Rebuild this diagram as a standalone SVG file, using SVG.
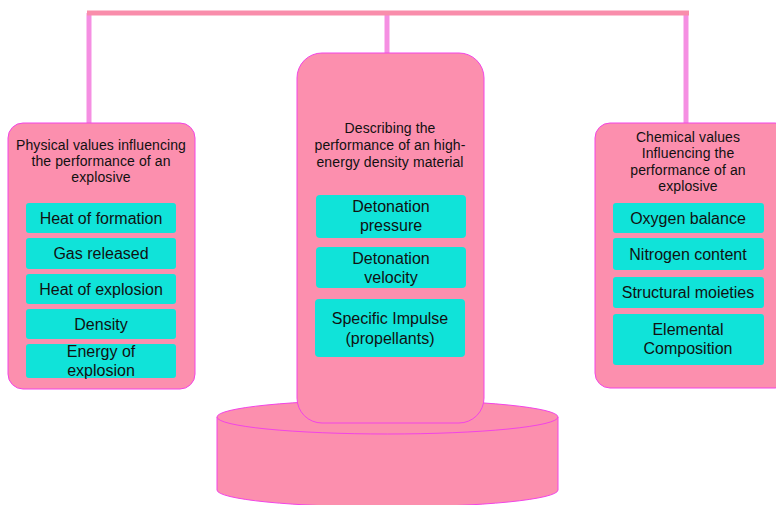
<svg xmlns="http://www.w3.org/2000/svg" width="776" height="505" viewBox="0 0 776 505">
<style>
.panel{fill:#fc8fae;stroke:#f244e6;stroke-width:1}
.item{fill:#10e3d9;stroke:none}
.t{font-family:"Liberation Sans",Arial,sans-serif;font-size:14px;letter-spacing:0.1px;fill:#111;text-anchor:middle}
.i{font-family:"Liberation Sans",Arial,sans-serif;font-size:16px;fill:#111;text-anchor:middle}
.h{stroke:#f98dab;stroke-width:5;fill:none}
.v{stroke:#f58fe2;stroke-width:5;fill:none}
</style>
<rect width="776" height="505" fill="#fff"/>
<g id="connectors">
<line class="v" x1="89" y1="13" x2="89" y2="125"/>
<line class="v" x1="387" y1="13" x2="387" y2="55"/>
<line class="v" x1="686" y1="13" x2="686" y2="125"/>
<line class="h" x1="87" y1="13" x2="689" y2="13"/>
</g>
<g id="base">
<path class="panel" d="M217,417 L217,490 A170.5,17 0 0 0 558,490 L558,417"/>
<ellipse class="panel" cx="387.5" cy="417" rx="170.5" ry="17"/>
</g>
<g id="left">
<rect class="panel" x="8" y="123" width="187" height="266" rx="15"/>
<text class="t" x="101" y="150">Physical values influencing</text>
<text class="t" x="101" y="166">the performance of an</text>
<text class="t" x="101" y="182">explosive</text>
<rect class="item" x="26" y="203" width="150" height="30" rx="3"/>
<text class="i" x="101" y="224">Heat of formation</text>
<rect class="item" x="26" y="238" width="150" height="31" rx="3"/>
<text class="i" x="101" y="259">Gas released</text>
<rect class="item" x="26" y="274" width="150" height="30" rx="3"/>
<text class="i" x="101" y="295">Heat of explosion</text>
<rect class="item" x="26" y="309" width="150" height="30" rx="3"/>
<text class="i" x="101" y="330">Density</text>
<rect class="item" x="26" y="344" width="150" height="34" rx="3"/>
<text class="i" x="101" y="357">Energy of</text>
<text class="i" x="101" y="376">explosion</text>
</g>
<g id="center">
<rect class="panel" x="297" y="53" width="187" height="370" rx="25"/>
<text class="t" x="390" y="133">Describing the</text>
<text class="t" x="390" y="150">performance of an high-</text>
<text class="t" x="390" y="167">energy density material</text>
<rect class="item" x="316" y="195" width="150" height="43" rx="4"/>
<text class="i" x="391" y="212">Detonation</text>
<text class="i" x="391" y="231">pressure</text>
<rect class="item" x="316" y="247" width="150" height="41" rx="4"/>
<text class="i" x="391" y="264">Detonation</text>
<text class="i" x="391" y="283">velocity</text>
<rect class="item" x="315" y="299" width="150" height="58" rx="4"/>
<text class="i" x="390" y="324">Specific Impulse</text>
<text class="i" x="390" y="344">(propellants)</text>
</g>
<g id="right">
<rect class="panel" x="595" y="123" width="195" height="265" rx="15"/>
<text class="t" x="688" y="142">Chemical values</text>
<text class="t" x="688" y="158">Influencing the</text>
<text class="t" x="688" y="175">performance of an</text>
<text class="t" x="688" y="191">explosive</text>
<rect class="item" x="613" y="203" width="151" height="30" rx="3"/>
<text class="i" x="688" y="224">Oxygen balance</text>
<rect class="item" x="613" y="238" width="151" height="32" rx="3"/>
<text class="i" x="688" y="260">Nitrogen content</text>
<rect class="item" x="613" y="277" width="151" height="31" rx="3"/>
<text class="i" x="688" y="298">Structural moieties</text>
<rect class="item" x="613" y="314" width="151" height="51" rx="3"/>
<text class="i" x="688" y="335">Elemental</text>
<text class="i" x="688" y="354">Composition</text>
</g>
</svg>
